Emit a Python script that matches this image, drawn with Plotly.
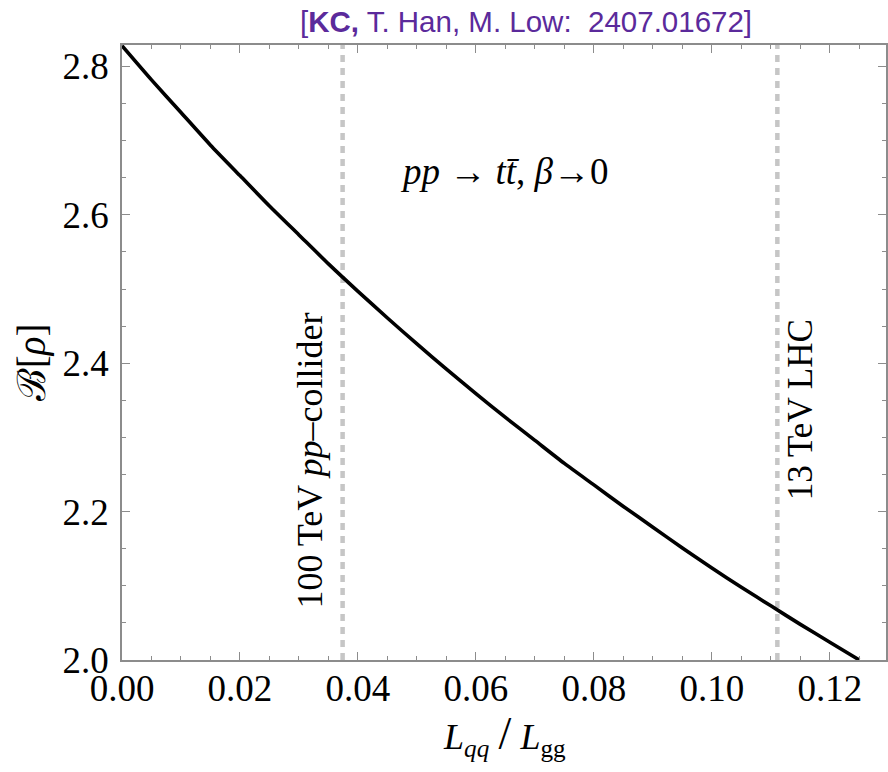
import plotly.graph_objects as go

# Bell variable B[rho] versus the parton-luminosity ratio L_qqbar / L_gg at threshold
lum_ratio = [0.000, 0.005, 0.010, 0.015, 0.020, 0.025, 0.030, 0.035, 0.040,
             0.045, 0.050, 0.055, 0.060, 0.065, 0.070, 0.075, 0.080, 0.085,
             0.090, 0.095, 0.100, 0.105, 0.110, 0.115, 0.120, 0.125]
bell_value = [2.828, 2.782, 2.738, 2.694, 2.653, 2.612, 2.573, 2.534, 2.497,
              2.461, 2.426, 2.392, 2.359, 2.327, 2.296, 2.265, 2.236, 2.207,
              2.179, 2.151, 2.124, 2.098, 2.073, 2.048, 2.024, 2.000]

# luminosity ratios of the two colliders (vertical reference lines)
collider_ratio = [0.0374, 0.1111]
collider_label = ["100 TeV <i>pp</i>\u2013collider", "13 TeV LHC"]

x_ticks = [0.00, 0.02, 0.04, 0.06, 0.08, 0.10, 0.12]
x_tick_text = ["0.00", "0.02", "0.04", "0.06", "0.08", "0.10", "0.12"]
y_ticks = [2.0, 2.2, 2.4, 2.6, 2.8]
y_tick_text = ["2.0", "2.2", "2.4", "2.6", "2.8"]

X_RANGE = [0.0, 0.12952]
Y_RANGE = [2.0, 2.829]

SERIF = "Liberation Serif, Times New Roman, serif"
FRAME = "#8c8c8c"

fig = go.Figure()

for xv in collider_ratio:
    fig.add_trace(go.Scatter(
        x=[xv, xv], y=Y_RANGE, mode="lines",
        line=dict(color="#c6c6c6", width=4.5, dash="7px,6px"),
        hoverinfo="skip", showlegend=False))

fig.add_trace(go.Scatter(
    x=lum_ratio, y=bell_value, mode="lines",
    line=dict(color="black", width=3.6, shape="spline", smoothing=0.6),
    showlegend=False))

axis_common = dict(
    showline=True, linecolor=FRAME, linewidth=1.5, mirror="ticks",
    ticks="inside", tickcolor=FRAME, tickwidth=1.2, ticklen=8,
    showgrid=False, zeroline=False,
    tickfont=dict(family=SERIF, size=37, color="black"),
)

fig.update_xaxes(
    range=X_RANGE, tickvals=x_ticks, ticktext=x_tick_text,
    ticklabelstandoff=-5,
    minor=dict(dtick=0.005, tick0=0, ticks="inside", ticklen=4,
               tickcolor=FRAME, tickwidth=1.2),
    **axis_common)
fig.update_yaxes(
    range=Y_RANGE, tickvals=y_ticks, ticktext=y_tick_text,
    ticklabelstandoff=4,
    minor=dict(dtick=0.05, tick0=2.0, ticks="inside", ticklen=4,
               tickcolor=FRAME, tickwidth=1.2),
    **axis_common)

annotations = [
    # reference line at the top
    dict(text="[<b>KC,</b> T. Han, M. Low:  2407.01672]",
         x=0.5287, y=1.0374, xref="paper", yref="paper",
         xanchor="center", yanchor="middle", showarrow=False,
         font=dict(family="Liberation Sans, Arial, sans-serif", size=29.5,
                   color="#5b2a9b")),
    # process label
    dict(text="<i>pp</i> \u2192 <i>t</i><i>t\u0304</i>, <i>\u03b2</i>\u21920",
         x=0.5, y=0.7935, xref="paper", yref="paper",
         xanchor="center", yanchor="middle", showarrow=False,
         font=dict(family=SERIF, size=37, color="black")),
    # collider labels along the dashed lines
    dict(text=collider_label[0], textangle=-90,
         x=0.2467, y=0.325, xref="paper", yref="paper",
         xanchor="center", yanchor="middle", showarrow=False,
         font=dict(family=SERIF, size=36, color="black")),
    dict(text=collider_label[1], textangle=-90,
         x=0.8877, y=0.4065, xref="paper", yref="paper",
         xanchor="center", yanchor="middle", showarrow=False,
         font=dict(family=SERIF, size=35, color="black")),
    # axis titles
    dict(text="\u212c[<i>\u03c1</i>]", textangle=-90,
         x=-0.1175, y=0.4846, xref="paper", yref="paper",
         xanchor="center", yanchor="middle", showarrow=False,
         font=dict(family=SERIF, size=39, color="black")),
    dict(text="<i>L</i><sub><i>qq</i></sub><span style='font-size:46px'>\u2009/\u2009</span><i>L</i><sub>gg</sub>",
         x=0.5, y=-0.122, xref="paper", yref="paper",
         xanchor="center", yanchor="middle", showarrow=False,
         font=dict(family=SERIF, size=36, color="black")),
]

fig.update_layout(
    width=888, height=772,
    margin=dict(l=122, r=0, t=45, b=112),
    paper_bgcolor="white", plot_bgcolor="white",
    annotations=annotations,
    showlegend=False,
)

fig.write_html("out.html")
